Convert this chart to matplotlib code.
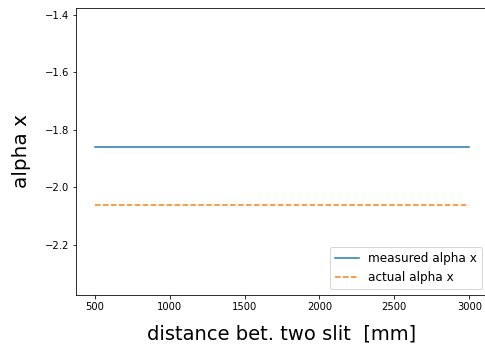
import numpy as np
import matplotlib
matplotlib.use("Agg")
import matplotlib.pyplot as plt

# distanza tra le due fenditure [mm]
distanza = [500, 1000, 1500, 2000, 2500, 3000]
# alpha x misurato e reale
alpha_misurato = [-1.861, -1.861, -1.861, -1.861, -1.861, -1.861]
alpha_reale = [-2.061, -2.061, -2.061, -2.061, -2.061, -2.061]

fig = plt.figure(figsize=(485 / 72, 349 / 72), dpi=72)
ax = fig.add_axes([76 / 485, 1 - 295 / 349, 412 / 485, 287 / 349])

ax.plot(distanza, alpha_misurato, label="measured alpha x")
ax.plot(distanza, alpha_reale, "--", label="actual alpha x")

ax.set_ylim(-2.374, -1.377)
ax.set_yticks([-2.2, -2.0, -1.8, -1.6, -1.4])
ax.set_xlim(375, 3125)
ax.set_xticks([500, 1000, 1500, 2000, 2500, 3000])
ax.tick_params(labelsize=10)
# il bordo destro e' tagliato nell'immagine originale
ax.spines["right"].set_visible(False)

ax.set_xlabel("distance bet. two slit  [mm]", fontsize=19.5, labelpad=12)
ax.set_ylabel("alpha x", fontsize=20, labelpad=14)
ax.legend(loc="lower right", fontsize=12)

fig.savefig("out.png", dpi=72)
